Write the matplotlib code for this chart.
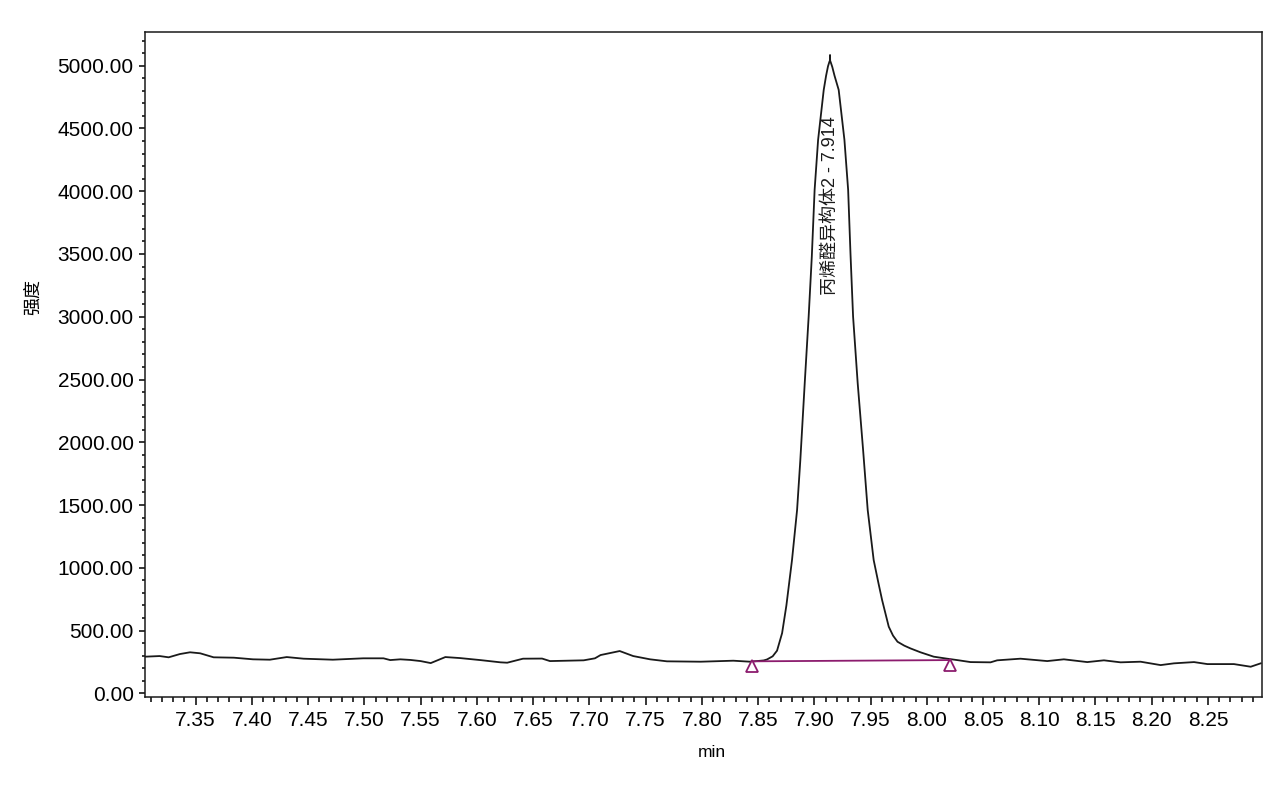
import numpy as np
import matplotlib
matplotlib.use('Agg')
import matplotlib.pyplot as plt
from matplotlib.ticker import MultipleLocator, FormatStrFormatter

plt.rcParams['font.family'] = ['Liberation Sans', 'Noto Sans CJK SC', 'DejaVu Sans']

# Datos del cromatograma (min, intensidad)
tiempo = [7.305, 7.318, 7.326, 7.336, 7.345, 7.354, 7.366, 7.384, 7.401, 7.416,
          7.431, 7.446, 7.472, 7.499, 7.517, 7.523, 7.532, 7.541, 7.550, 7.559,
          7.572, 7.585, 7.603, 7.621, 7.627, 7.641, 7.658, 7.665, 7.695, 7.705,
          7.710, 7.727, 7.739, 7.754, 7.769, 7.799, 7.828, 7.843, 7.855, 7.858,
          7.863, 7.8669, 7.8714, 7.8752, 7.8802, 7.8847, 7.8876, 7.8915, 7.8950, 7.8978,
          7.9003, 7.9034, 7.9084, 7.9105, 7.9122, 7.9134, 7.9139, 7.9140, 7.9141, 7.9147,
          7.9160, 7.9180, 7.9217, 7.9268,
          7.9301, 7.9322, 7.9345, 7.9386, 7.9434, 7.9475, 7.9528, 7.9570, 7.9603, 7.9662,
          7.9700, 7.9740, 7.9800, 7.9855, 7.9944, 8.0062, 8.0181, 8.0270, 8.0389, 8.0567,
          8.0626, 8.0833, 8.1071, 8.1219, 8.1427, 8.1575, 8.1723, 8.1901, 8.2079, 8.2198,
          8.2376, 8.2495, 8.2731, 8.2880, 8.2969]
intensidad = [292, 297, 287, 313, 327, 319, 287, 284, 271, 268,
              289, 276, 268, 279, 279, 265, 271, 266, 257, 241,
              289, 281, 265, 247, 244, 276, 277, 257, 263, 279,
              305, 337, 297, 271, 255, 252, 260, 252, 262, 270,
              295, 340, 480, 700, 1062, 1460, 1859, 2470, 3001, 3479,
              4011, 4409, 4807, 4920, 4995, 5030, 5040, 5085, 5040, 5025,
              4990, 4920, 4807, 4409,
              4011, 3500, 3001, 2470, 1939, 1460, 1062, 880, 743, 531,
              460, 411, 380, 358, 327, 292, 276, 265, 249, 247,
              263, 276, 257, 271, 249, 263, 247, 252, 225, 239,
              249, 233, 233, 212, 239]

# Línea base del pico
base_t = [7.8449, 8.0211]
base_y = [255, 265]
marca_y = [216, 222]

etiqueta_pico = '丙烯醛异构体2 - 7.914'
t_pico = 7.914

fig = plt.figure(figsize=(12.8, 7.87), dpi=100)
ax = fig.add_axes([0.1133, 0.1147, 0.8726, 0.8443])

ax.plot(tiempo, intensidad, color='#1a1a1a', lw=1.3)
ax.plot(base_t, base_y, color='#8c1c6e', lw=1.3)
ax.plot(base_t, marca_y, ls='none', marker='^', ms=8.5, mfc='white',
        mec='#8c1c6e', mew=1.3)

ax.text(t_pico, 3174, etiqueta_pico, rotation=90, ha='center', va='bottom',
        fontsize=13, color='#1a1a1a')

ax.set_xlim(7.305, 8.298)
ax.set_ylim(-27, 5266)
ax.xaxis.set_major_locator(MultipleLocator(0.05))
ax.xaxis.set_minor_locator(MultipleLocator(0.01))
ax.yaxis.set_major_locator(MultipleLocator(500))
ax.yaxis.set_minor_locator(MultipleLocator(100))
ax.xaxis.set_major_formatter(FormatStrFormatter('%.2f'))
ax.yaxis.set_major_formatter(FormatStrFormatter('%.2f'))

ax.tick_params(axis='x', which='major', length=6, width=1.1, pad=4, labelsize=15)
ax.tick_params(axis='x', which='minor', length=3.6, width=1.1)
ax.tick_params(axis='y', which='major', length=4.2, width=1.1, pad=4, labelsize=15)
ax.tick_params(axis='y', which='minor', length=2.4, width=1.1)
for s in ax.spines.values():
    s.set_linewidth(1.1)
    s.set_color('#1a1a1a')

ax.set_xlabel('min', fontsize=12.5)
ax.set_ylabel('强度', fontsize=13)
ax.xaxis.set_label_coords(0.5076, -0.073)
ax.yaxis.set_label_coords(-0.092, 0.6016)

fig.savefig('out.png', dpi=100)
